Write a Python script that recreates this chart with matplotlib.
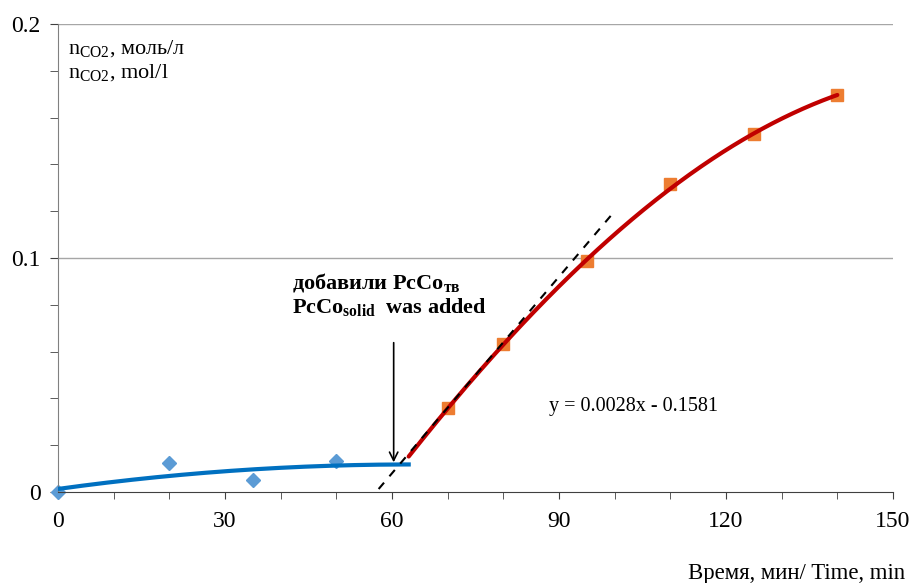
import numpy as np
import matplotlib
matplotlib.use("Agg")
import matplotlib.pyplot as plt

# Data
blue_x = [0, 20, 35, 50]
blue_y = [0.0, 0.0124, 0.0051, 0.0132]
orange_x = [70, 80, 95, 110, 125, 140]
orange_y = [0.0359, 0.0632, 0.0987, 0.1318, 0.153, 0.1697]
# blue trend polynomial (quadratic) coefficients
blue_trend_coef = [-2.6e-6, 3.3e-4, 0.0013]
blue_trend_range = [0, 63]
# red trend curve: values
red_curve_x = [63, 70, 80, 95, 110, 125, 140]
red_curve_y = [0.015, 0.0359, 0.0632, 0.0987, 0.1302, 0.153, 0.1697]
# dashed tangent line (label) and as drawn
lin_slope = 0.0028
lin_intercept = -0.1581
lin_drawn_intercept = -0.1600
lin_range = [57.6, 99.9]
arrow_x = 60.3
arrow_y = [0.065, 0.0115]
x_ticks = [0, 30, 60, 90, 120, 150]
y_ticks = [0, 0.1, 0.2]
y_tick_labels = ["0", "0.1", "0.2"]

plt.rcParams['font.family'] = ['Liberation Serif', 'DejaVu Serif']
plt.rcParams['mathtext.fontset'] = 'custom'
plt.rcParams['mathtext.rm'] = 'Liberation Serif'
plt.rcParams['mathtext.it'] = 'Liberation Serif:italic'
plt.rcParams['mathtext.bf'] = 'Liberation Serif:bold'

fig = plt.figure(figsize=(9.09, 5.83), dpi=100)
ax = fig.add_axes([58/909, (583-492)/583, 835/909, 468/583])

ax.set_xlim(0, 150)
ax.set_ylim(0, 0.2)

# grid
for yv in [0.1, 0.2]:
    ax.axhline(yv, color='#a6a6a6', lw=1.0, zorder=0)

# markers
ax.plot(blue_x, blue_y, linestyle='none', marker='D', markersize=7,
        color='#5b9bd5', zorder=2, clip_on=False)
ax.plot(orange_x, orange_y, linestyle='none', marker='s', markersize=8,
        color='#ed7d31', zorder=2)

# blue trend
xb = np.linspace(*blue_trend_range, 200)
ax.plot(xb, np.polyval(blue_trend_coef, xb), color='#0070c0', lw=3, zorder=3)

# red trend: cubic polynomial through the curve readings
coef = np.polyfit(red_curve_x, red_curve_y, 3)
xr = np.linspace(red_curve_x[0], red_curve_x[-1], 300)
ax.plot(xr, np.polyval(coef, xr), color='#c00000', lw=3, zorder=3,
        solid_capstyle='round')

# dashed linear
xl = np.array(lin_range)
ax.plot(xl, lin_slope * xl + lin_drawn_intercept, color='black', lw=1.5,
        linestyle=(0, (4, 4)), zorder=4)

# arrow
ax.annotate('', xy=(arrow_x, arrow_y[1]), xytext=(arrow_x, arrow_y[0]),
            arrowprops=dict(arrowstyle='->', color='black', lw=1.2,
                            mutation_scale=15))

# texts
ax.text(42.0, 0.0895, 'добавили PcCo$_{\\mathbf{тв}}$', ha='left', va='center',
        fontsize=16, fontweight='bold')
ax.text(42.0, 0.0790, 'PcCo$_{\\mathbf{solid}}$  was added', ha='left', va='center',
        fontsize=16, fontweight='bold')
ax.text(88.2, 0.0367, f'y = {lin_slope:.4f}x - {abs(lin_intercept):.4f}',
        ha='left', va='center', fontsize=14.5)
ax.text(1.8, 0.1897, 'n$_{\\mathrm{CO2}}$, моль/л', ha='left', va='center', fontsize=16)
ax.text(1.8, 0.1791, 'n$_{\\mathrm{CO2}}$, mol/l', ha='left', va='center', fontsize=16)
fig.text(905/909, 1 - 574/583, 'Время, мин/ Time, min', ha='right', va='center',
         fontsize=16.4)

# axes styling
for sp in ['top', 'right']:
    ax.spines[sp].set_visible(False)
ax.spines['left'].set_color('#808080')
ax.spines['bottom'].set_color('#404040')
ax.set_xticks(x_ticks)
ax.set_xticks(np.arange(0, 151, 10), minor=True)
ax.set_yticks(y_ticks)
ax.set_yticklabels(y_tick_labels)
ax.set_yticks(np.arange(0, 0.201, 0.02), minor=True)
ax.tick_params(axis='both', which='both', direction='out', colors='#404040',
               labelcolor='black', labelsize=17)
ax.tick_params(axis='x', which='both', length=5, pad=9)
ax.tick_params(axis='y', which='both', length=5.5, pad=7)

fig.savefig('out.png', dpi=100)
